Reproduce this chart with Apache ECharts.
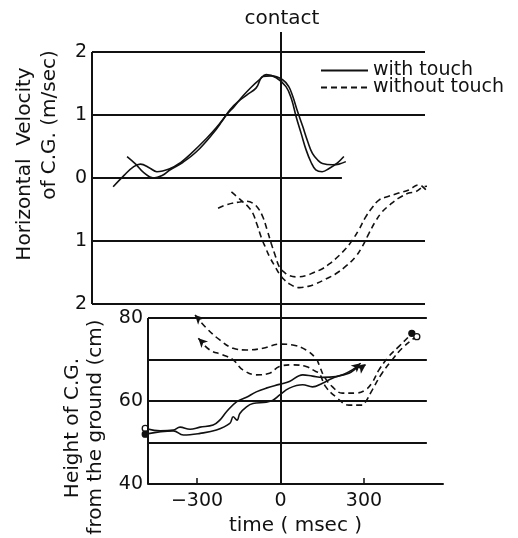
<!DOCTYPE html>
<html>
<head>
<meta charset="utf-8">
<script src="https://cdn.jsdelivr.net/npm/echarts@6/dist/echarts.min.js"></script>
<style>
  html, body { margin: 0; padding: 0; background: #fff; }
  #chart { width: 518px; height: 538px; }
</style>
</head>
<body>
<div id="chart"></div>
<script>
// time in msec, velocity in m/sec (without touch plotted downward), height in cm
const velWithA = [[-601, -0.14], [-560, 0.05], [-527, 0.18], [-503, 0.22], [-470, 0.16], [-444, 0.10], [-396, 0.15],
  [-360, 0.24], [-325, 0.37], [-265, 0.63], [-230, 0.80], [-194, 1.0], [-165, 1.14], [-135, 1.30], [-105, 1.44],
  [-75, 1.56], [-51, 1.64], [-15, 1.59], [20, 1.45], [40, 1.25], [56, 0.98], [75, 0.70], [92, 0.45], [110, 0.25],
  [127, 0.13], [150, 0.10], [175, 0.15], [205, 0.24], [228, 0.34]]
const velWithB = [[-551, 0.34], [-520, 0.22], [-490, 0.08], [-456, 0.0], [-425, 0.04], [-396, 0.13], [-350, 0.25],
  [-301, 0.42], [-242, 0.71], [-210, 0.90], [-182, 1.08], [-150, 1.22], [-120, 1.32], [-87, 1.43], [-63, 1.61],
  [-33, 1.62], [8, 1.56], [30, 1.45], [44, 1.30], [62, 1.05], [80, 0.82], [98, 0.58], [115, 0.39], [135, 0.28],
  [151, 0.23], [187, 0.21], [210, 0.22], [235, 0.26]]
const velWithoutA = [[-224, -0.48], [-190, -0.42], [-146, -0.38], [-120, -0.37], [-99, -0.40], [-80, -0.48],
  [-63, -0.62], [-48, -0.82], [-33, -1.04], [-18, -1.24], [-4, -1.41], [15, -1.50], [32, -1.55], [60, -1.57],
  [92, -1.55], [120, -1.50], [151, -1.44], [180, -1.35], [211, -1.23], [235, -1.12], [258, -0.99], [282, -0.82],
  [306, -0.62], [330, -0.47], [354, -0.35], [389, -0.29], [425, -0.24], [461, -0.19], [496, -0.11], [532, -0.22],
  [556, -0.27]]
const velWithoutB = [[-176, -0.22], [-155, -0.30], [-135, -0.38], [-115, -0.46], [-99, -0.56], [-84, -0.74],
  [-69, -0.94], [-54, -1.10], [-39, -1.25], [-20, -1.40], [-4, -1.52], [15, -1.62], [32, -1.68], [68, -1.74],
  [100, -1.72], [127, -1.68], [165, -1.60], [199, -1.52], [235, -1.40], [270, -1.25], [295, -1.08], [318, -0.88],
  [340, -0.70], [365, -0.54], [395, -0.42], [425, -0.32], [461, -0.24], [485, -0.22], [514, -0.14], [532, -0.13]]

const hgtWithA = [[-486, 53.4], [-432, 52.8], [-385, 53.0], [-361, 53.7], [-325, 53.2], [-289, 53.7], [-242, 54.2],
  [-218, 55.4], [-194, 57.4], [-158, 59.8], [-122, 60.9], [-87, 62.2], [-51, 63.1], [-4, 64.0], [32, 64.7],
  [80, 66.3], [115, 66.0], [151, 65.7], [199, 65.9], [246, 66.7], [282, 68.3], [306, 68.7]]
const hgtWithB = [[-486, 52.0], [-430, 52.6], [-385, 52.8], [-349, 51.8], [-289, 52.2], [-230, 53.0], [-182, 54.6],
  [-170, 56.2], [-156, 55.4], [-146, 57.0], [-122, 58.6], [-99, 59.4], [-51, 59.7], [-27, 60.2], [-4, 61.4],
  [32, 63.1], [80, 63.9], [115, 63.4], [151, 64.3], [187, 65.5], [222, 66.3], [258, 67.5], [288, 69.1]]
const hgtWithoutA = [[-307, 80.7], [-265, 77.5], [-218, 74.7], [-170, 72.7], [-122, 72.3], [-63, 72.7], [-4, 73.7],
  [44, 73.5], [92, 72.3], [127, 70.3], [139, 68.7], [157, 65.9], [187, 63.4], [222, 61.9], [270, 61.9], [306, 62.7],
  [330, 64.5], [354, 67.5], [389, 70.7], [425, 73.1], [461, 75.5], [472, 76.3]]
const hgtWithoutB = [[-295, 75.1], [-254, 72.3], [-206, 71.1], [-170, 69.9], [-135, 67.5], [-87, 66.3], [-39, 66.7],
  [-4, 68.3], [44, 68.7], [92, 68.3], [127, 67.1], [139, 66.7], [163, 63.4], [199, 61.0], [246, 59.0], [294, 59.0],
  [306, 59.8], [330, 62.7], [365, 66.7], [401, 69.9], [437, 72.7], [479, 75.1], [490, 75.5]]

const velTicks = [-2, -1, 0, 1, 2]
const velLines = [2, 1, -1, -2]
const hgtTicks = [40, 60, 80]
const hgtLines = [80, 70, 60, 50]
const timeTicks = [-300, 0, 300]

const topX = [-677, 519.5]
const topY = [-2, 2.317]
const botX = [-476, 584]
const botY = [40, 83.37]
const botLineEnd = 526
const zeroLineEnd = 221

const ink = '#111'
const font = '"DejaVu Sans", sans-serif'
const titleFont = '20px ' + font

const seg = (a, b) => [{ coord: a }, { coord: b }]

// small end markers: circles and arrow heads
const withMarks = (points, marks) =>
  points.map((p, i) => (marks[i] ? { value: p, ...marks[i] } : p))
const dot = (fill) => ({ symbol: 'circle', symbolSize: 6, itemStyle: { color: fill, borderColor: ink, borderWidth: 1.3 } })
const arrow = (rot) => ({ symbol: 'arrow', symbolSize: [7, 9], symbolRotate: rot, itemStyle: { color: ink } })

const lineSeries = (name, data, dashed, xi, extra) => ({
  name,
  type: 'line',
  xAxisIndex: xi,
  yAxisIndex: xi,
  data,
  symbol: 'none',
  smooth: 0.4,
  clip: false,
  silent: true,
  animation: false,
  lineStyle: { color: ink, width: 1.6, type: dashed ? [6, 4] : 'solid' },
  itemStyle: { color: ink },
  ...extra,
})

const frame = (lines) => ({
  silent: true,
  symbol: 'none',
  animation: false,
  label: { show: false },
  lineStyle: { color: ink, width: 2, type: 'solid' },
  data: lines,
})

const vText = (text, x, y) => ({
  type: 'text', x, y, rotation: Math.PI / 2, silent: true,
  style: { text, fill: ink, font: titleFont, align: 'center', verticalAlign: 'middle' },
})

const chart = echarts.init(document.getElementById('chart'))

const option = {
  backgroundColor: '#fff',
  textStyle: { fontFamily: font, color: ink },
  grid: [
    { left: 92, top: 32, width: 333, height: 272 },
    { left: 148, top: 304, width: 295, height: 180 },
  ],
  legend: {
    orient: 'vertical',
    left: 315,
    top: 56,
    itemWidth: 47,
    itemHeight: 14,
    itemGap: -2,
    itemStyle: { opacity: 0 },
    lineStyle: { width: 2 },
    textStyle: { fontSize: 19, color: ink, fontFamily: font },
    data: ['with touch', 'without touch'],
  },
  xAxis: [
    { type: 'value', gridIndex: 0, min: topX[0], max: topX[1], show: false },
    {
      type: 'value',
      gridIndex: 1,
      min: botX[0],
      max: botX[1],
      name: 'time ( msec )',
      nameLocation: 'middle',
      nameGap: 32,
      nameTextStyle: { fontSize: 20, color: ink, fontFamily: font },
      axisLine: { lineStyle: { color: ink, width: 2 } },
      axisTick: { show: true, inside: true, length: 6, customValues: timeTicks, lineStyle: { color: ink, width: 1.5 } },
      axisLabel: {
        customValues: timeTicks,
        margin: 8,
        fontSize: 19,
        color: ink,
        fontFamily: font,
        formatter: (v) => (v < 0 ? '\u2212' + Math.abs(v) : String(v)),
      },
      splitLine: { show: false },
    },
  ],
  yAxis: [
    {
      type: 'value',
      gridIndex: 0,
      min: topY[0],
      max: topY[1],
      axisLine: { show: false },
      axisTick: { show: false },
      axisLabel: { customValues: velTicks, margin: 5, fontSize: 19, color: ink, fontFamily: font, formatter: (v) => String(Math.abs(v)) },
      splitLine: { show: false },
    },
    {
      type: 'value',
      gridIndex: 1,
      min: botY[0],
      max: botY[1],
      axisLine: { show: false },
      axisTick: { show: false },
      axisLabel: { customValues: hgtTicks, margin: 5, fontSize: 19, color: ink, fontFamily: font },
      splitLine: { show: false },
    },
  ],
  graphic: [
    { type: 'text', x: 282, y: 19, silent: true, style: { text: 'contact', fill: ink, font: titleFont, align: 'center', verticalAlign: 'middle' } },
    vText('Horizontal  Velocity', 25, 164),
    vText('of C.G. (m/sec)', 50, 125),
    vText('Height of C.G.', 73, 428),
    vText('from the ground (cm)', 96, 427),
  ],
  series: [
    lineSeries('with touch', velWithA, false, 0, {
      markLine: frame([
        ...velLines.map((v) => seg([topX[0], v], [topX[1], v])),
        seg([topX[0], 0], [zeroLineEnd, 0]),
        seg([topX[0], topY[0]], [topX[0], 2]),
        seg([0, topY[0]], [0, topY[1]]),
      ]),
    }),
    lineSeries('with touch', velWithB, false, 0),
    lineSeries('without touch', velWithoutA, true, 0),
    lineSeries('without touch', velWithoutB, true, 0),
    lineSeries('with touch', withMarks(hgtWithA, { 0: dot('#fff'), [hgtWithA.length - 1]: arrow(-55) }), false, 1, {
      markLine: frame([
        ...hgtLines.map((v) => seg([botX[0], v], [botLineEnd, v])),
        seg([botX[0], botY[0]], [botX[0], 80]),
        seg([0, botY[0]], [0, botY[1]]),
      ]),
    }),
    lineSeries('with touch', withMarks(hgtWithB, { 0: dot(ink), [hgtWithB.length - 1]: arrow(-50) }), false, 1),
    lineSeries('without touch', withMarks(hgtWithoutA, { 0: arrow(45), [hgtWithoutA.length - 1]: dot(ink) }), true, 1),
    lineSeries('without touch', withMarks(hgtWithoutB, { 0: arrow(45), [hgtWithoutB.length - 1]: dot('#fff') }), true, 1),
  ],
}

chart.setOption(option)
</script>
</body>
</html>
